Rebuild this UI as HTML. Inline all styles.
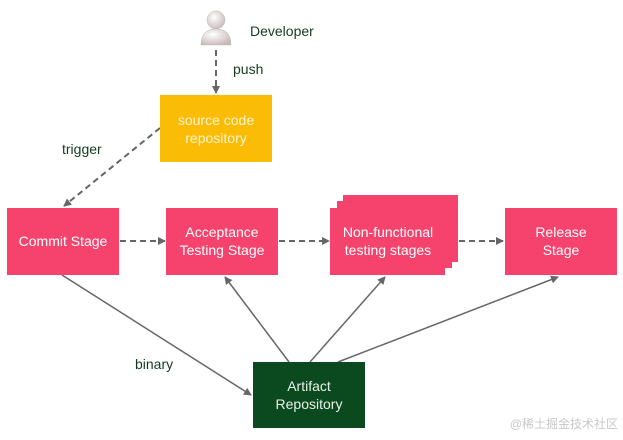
<!DOCTYPE html>
<html><head><meta charset="utf-8"><style>
body{margin:0;background:#fff;width:623px;height:435px;overflow:hidden;font-family:"Liberation Sans",sans-serif}
</style></head><body>
<svg width="623" height="435" xmlns="http://www.w3.org/2000/svg" font-family="Liberation Sans, sans-serif">
<defs>
<marker id="a" markerWidth="8" markerHeight="8" refX="7" refY="4" orient="auto" markerUnits="userSpaceOnUse"><path d="M0,0 L8,4 L0,8 z" fill="#666"/></marker>
<radialGradient id="g" cx="0.4" cy="0.35" r="0.7"><stop offset="0" stop-color="#fff"/><stop offset="1" stop-color="#c9b8b8"/></radialGradient>
</defs>
<circle cx="216" cy="20" r="9" fill="url(#g)" stroke="#bbb" stroke-width="0.5"/>
<path d="M201,45 Q201,29 216,29 Q231,29 231,45 z" fill="url(#g)" stroke="#bbb" stroke-width="0.5"/>
<text x="250" y="36" font-size="14" fill="#163b22">Developer</text>
<text x="233" y="74" font-size="14" fill="#163b22">push</text>
<text x="62" y="154" font-size="14" fill="#163b22">trigger</text>
<text x="135" y="369" font-size="14" fill="#163b22">binary</text>
<g stroke="#666" stroke-width="2" stroke-dasharray="6,4" fill="none">
<line x1="216" y1="50" x2="216" y2="93" marker-end="url(#a)"/>
<line x1="160" y1="128" x2="64" y2="206" marker-end="url(#a)"/>
<line x1="120" y1="241" x2="165" y2="241" marker-end="url(#a)"/>
<line x1="279" y1="241" x2="329" y2="241" marker-end="url(#a)"/>
<line x1="459" y1="241" x2="503" y2="241" marker-end="url(#a)"/>
</g>
<g stroke="#666" stroke-width="1.5" fill="none">
<line x1="62" y1="275" x2="251" y2="395" marker-end="url(#a)"/>
<line x1="289" y1="362" x2="225" y2="277" marker-end="url(#a)"/>
<line x1="310" y1="362" x2="385" y2="277" marker-end="url(#a)"/>
<line x1="338" y1="362" x2="558" y2="277" marker-end="url(#a)"/>
</g>
<rect x="160" y="95" width="112" height="67" fill="#fbbc05"/>
<text font-size="14" fill="#fff4d0" text-anchor="middle"><tspan x="216" y="125">source code</tspan><tspan x="216" y="143">repository</tspan></text>
<rect x="7" y="208" width="112" height="67" fill="#f6436d"/>
<text x="63" y="246" font-size="14" fill="#fff" text-anchor="middle">Commit Stage</text>
<rect x="166" y="208" width="112" height="67" fill="#f6436d"/>
<text font-size="14" fill="#fff" text-anchor="middle"><tspan x="222" y="237">Acceptance</tspan><tspan x="222" y="255">Testing Stage</tspan></text>
<rect x="343" y="195" width="115" height="67" fill="#f6436d"/>
<rect x="337" y="201" width="115" height="67" fill="#f6436d"/>
<rect x="330" y="208" width="115" height="67" fill="#f6436d"/>
<text font-size="14" fill="#fff" text-anchor="middle"><tspan x="388" y="237">Non-functional</tspan><tspan x="388" y="255">testing stages</tspan></text>
<rect x="505" y="208" width="112" height="67" fill="#f6436d"/>
<text font-size="14" fill="#fff" text-anchor="middle"><tspan x="561" y="237">Release</tspan><tspan x="561" y="255">Stage</tspan></text>
<rect x="253" y="362" width="112" height="66" fill="#0b4a1f"/>
<text font-size="14" fill="#e8f0e8" text-anchor="middle"><tspan x="309" y="391">Artifact</tspan><tspan x="309" y="409">Repository</tspan></text>
<text x="618" y="428" font-size="12" fill="#c8c8c8" text-anchor="end" font-family="Liberation Sans, Noto Sans CJK SC, sans-serif">@稀土掘金技术社区</text>
</svg>
</body></html>
